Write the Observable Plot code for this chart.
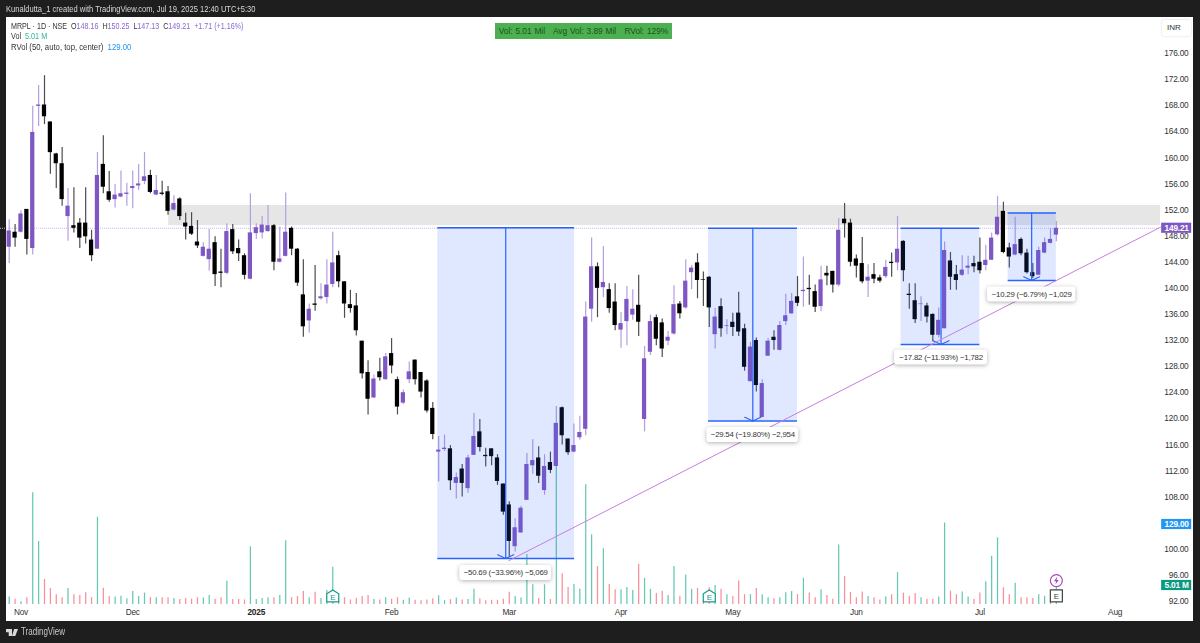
<!DOCTYPE html>
<html>
<head>
<meta charset="utf-8">
<script src="https://cdn.jsdelivr.net/npm/d3@7"></script>
<script src="https://cdn.jsdelivr.net/npm/@observablehq/plot@0.6"></script>
<style>
html,body{margin:0;padding:0;background:#1e1e1e;width:1200px;height:643px;overflow:hidden;font-family:"Liberation Sans",sans-serif}
#panel{position:absolute;left:6px;top:17px;width:1187px;height:604px;background:#fff}
#chart{position:absolute;left:0;top:0;z-index:1}
#chart svg text{letter-spacing:-.2px}
.t{position:absolute;z-index:2;white-space:nowrap}
#hdr{left:6px;top:3px;color:#d8d8d8;font-size:8.7px;line-height:12px;transform:scaleX(.868);transform-origin:left}
.leg{left:11px;font-size:8.5px;line-height:11px;color:#333;transform-origin:left}
.leg .p{color:#8a68cf}.leg .g{color:#2bb59a}.leg .b{color:#2196f3}
#rv{left:495px;top:23px;width:177px;height:16px;background:#4caf50;color:#17541c;font-size:8.3px;line-height:16px;text-align:center;word-spacing:.5px}
#inr{left:1162px;top:20px;width:29px;height:16px;line-height:16px;text-align:center;text-indent:-5px;color:#333;font-size:8px;background:#fff;box-shadow:0 0 2px rgba(0,0,0,.2);border-radius:2px}
#brand{left:21px;top:626px;color:#c8c8c8;font-size:10px;line-height:12px;transform:scaleX(.8);transform-origin:left}
#cut{position:absolute;z-index:2;left:1160px;top:604px;width:33px;height:4px;background:#fff}
.logo{position:absolute;z-index:2;background:#d8d8d8}
</style>
</head>
<body>
<div id="panel"></div>
<div id="chart"></div>
<div id="cut"></div>
<div class="t" id="hdr">Kunaldutta_1 created with TradingView.com, Jul 19, 2025 12:40 UTC+5:30</div>
<div class="t leg" style="top:21px;transform:scaleX(.84)">MRPL · 1D · NSE &nbsp;O<span class="p">148.16</span> &nbsp;H<span class="p">150.25</span> &nbsp;L<span class="p">147.13</span> &nbsp;C<span class="p">149.21</span> &nbsp;<span class="p">+1.71 (+1.16%)</span></div>
<div class="t leg" style="top:31px;transform:scaleX(.85)">Vol &nbsp;<span class="g">5.01 M</span></div>
<div class="t leg" style="top:42px;transform:scaleX(.91)">RVol (50, auto, top, center) &nbsp;<span class="b">129.00</span></div>
<div class="t" id="rv">Vol: 5.01 Mil &nbsp; Avg Vol: 3.89 Mil &nbsp; RVol: 129%</div>
<div class="t" id="inr">INR</div>
<div class="logo" style="left:6px;top:629px;width:6px;height:7px;clip-path:polygon(0 0,100% 0,100% 100%,45% 100%,45% 45%,0 45%)"></div>
<div class="logo" style="left:12px;top:629px;width:6px;height:7px;clip-path:polygon(35% 0,100% 0,55% 100%,0 100%)"></div>
<div class="t" id="brand">TradingView</div>
<script>
// ---- candle values, one per trading day, Nov 2024 – Jul 2025 ----
const opens = [
146.3,148.6,148.6,152.1,146.1,167.9,168.1,165.5,160.6,159.1,
151.0,149.6,150.0,150.0,147.4,146.0,159.0,154.8,153.6,154.0,
154.4,155.3,155.7,156.4,157.3,154.3,154.6,154.8,152.0,153.7,
150.0,149.5,147.1,144.9,144.4,147.0,142.5,142.3,149.0,146.1,
145.0,141.4,148.4,148.5,148.7,149.6,144.0,144.9,149.2,146.0,
139.0,135.0,137.6,138.4,138.6,140.6,145.0,141.0,137.5,137.3,
131.9,127.1,123.2,127.2,126.0,130.0,126.0,122.4,126.0,129.0,
127.1,125.8,121.6,114.9,115.3,115.4,110.1,112.3,109.3,114.4,
118.0,114.4,115.4,114.0,110.0,106.8,100.4,102.5,107.5,112.8,
114.0,109.0,113.3,112.7,121.7,116.9,114.9,117.1,118.4,136.8,
143.3,140.1,139.8,137.9,133.6,134.9,135.9,137.4,119.9,130.2,
135.5,134.7,131.9,133.0,137.6,137.0,142.4,143.9,141.3,141.7,
132.9,137.2,134.2,134.8,136.2,133.8,125.7,132.0,120.2,129.6,
132.5,130.5,134.9,136.1,138.7,139.5,140.0,139.5,137.2,142.3,
142.6,140.5,150.6,150.0,144.5,143.8,141.1,142.1,141.6,141.8,
144.0,143.9,147.2,139.1,138.1,137.5,137.3,136.0,132.8,133.8,
144.2,142.1,142.0,143.1,143.8,144.0,143.5,144.3,148.2,151.8,
146.2,145.1,147.5,145.4,142.4,142.0,145.4,146.9,148.16];
const closes = [
148.8,147.7,151.4,147.5,163.9,168.1,166.3,160.8,159.1,153.6,
152.6,149.2,147.7,147.9,145.0,157.3,155.5,153.5,154.3,154.5,
154.6,155.6,156.0,157.1,154.7,155.0,154.4,151.8,153.0,151.0,
149.4,148.3,146.5,146.3,146.0,142.1,142.3,148.7,145.6,145.3,
142.0,148.5,149.3,149.7,149.6,144.0,144.5,148.6,146.0,140.8,
134.1,136.8,137.4,138.7,140.5,143.9,141.0,137.6,136.9,133.5,
126.9,123.0,126.1,126.3,129.5,128.1,121.8,124.0,127.2,126.0,
124.1,121.2,117.6,115.2,115.5,110.5,111.0,110.1,114.0,117.3,
115.6,114.2,114.2,110.4,105.7,101.2,103.3,106.3,113.0,113.6,
111.2,112.7,112.1,119.3,117.4,114.8,115.9,117.9,135.6,143.3,
140.0,140.9,136.9,134.3,134.6,138.3,136.8,134.8,129.2,134.9,
132.2,130.7,132.5,137.5,136.1,141.1,143.1,141.2,141.2,137.0,
135.6,133.8,134.3,134.0,133.3,127.9,131.0,125.1,125.4,131.9,
132.0,134.3,135.8,138.0,137.7,139.7,139.8,137.1,141.3,141.9,
140.5,148.9,149.9,144.0,143.4,141.0,141.7,141.4,141.1,143.2,
143.8,146.0,142.7,138.9,135.2,137.6,135.6,132.8,135.1,145.8,
141.7,141.2,142.8,143.4,143.3,142.7,144.3,147.7,150.9,145.5,
144.8,146.7,145.3,142.4,141.8,145.8,147.0,147.5,149.21];
const highs = [
150.5,149.8,151.9,152.1,167.9,171.1,172.6,165.5,160.7,161.6,
155.3,155.4,150.7,155.4,148.9,160.8,163.4,157.9,155.9,158.0,
156.1,158.0,159.0,160.8,158.1,157.3,156.4,155.6,154.2,153.9,
151.5,151.6,150.4,147.0,149.0,147.9,146.0,149.9,149.8,147.4,
145.3,154.5,149.9,151.0,152.7,149.8,149.4,154.6,149.4,146.1,
144.4,137.6,143.5,140.7,144.4,148.6,145.7,141.0,139.7,139.2,
131.9,128.9,126.7,129.3,130.0,132.3,126.4,124.4,128.7,129.0,
127.1,126.0,122.5,117.3,117.5,115.9,111.7,113.0,114.4,120.8,
119.9,115.5,115.4,114.5,110.0,107.3,104.7,106.6,114.7,116.8,
115.7,114.5,114.9,121.9,121.8,116.9,119.2,120.4,137.9,147.7,
143.9,146.4,140.7,140.7,136.3,140.3,139.8,142.0,131.1,135.9,
135.9,135.3,133.4,140.4,138.0,144.4,143.5,145.3,142.5,141.8,
136.9,138.4,135.2,136.2,139.4,134.5,131.7,132.4,126.0,132.3,
133.5,134.9,139.1,139.2,141.8,144.8,142.0,140.5,143.4,143.4,
142.6,150.7,153.0,150.6,145.1,147.8,143.6,143.8,142.0,144.3,
145.4,151.0,147.3,140.7,140.7,138.7,137.7,136.1,137.0,147.1,
145.5,143.5,145.0,144.9,144.9,147.7,146.6,148.5,154.1,153.2,
146.9,150.9,147.7,146.0,143.8,146.3,147.7,149.1,150.25];
const lows = [
143.8,146.3,148.5,145.1,145.1,164.8,165.1,157.5,155.3,152.6,
147.2,148.5,146.1,146.8,144.1,146.0,154.5,153.2,152.3,153.9,
152.6,152.2,155.0,155.9,154.5,154.2,154.2,151.2,151.8,150.4,
147.4,148.1,146.1,144.8,142.6,140.3,140.1,142.1,145.2,144.1,
141.3,141.3,147.5,147.6,148.6,142.7,143.9,144.8,145.0,140.3,
132.5,133.1,136.5,138.2,137.6,140.1,140.1,135.4,136.2,132.7,
126.1,120.6,123.1,125.8,125.9,126.9,120.6,122.2,125.4,125.2,
123.2,120.9,116.8,110.3,115.0,109.0,107.7,108.0,108.6,114.4,
114.9,112.6,112.8,109.8,105.2,98.8,99.6,102.5,107.5,111.5,
110.1,108.3,111.6,112.6,116.0,114.4,114.8,116.7,117.4,134.8,
135.5,138.6,136.2,133.5,130.8,131.2,135.1,132.6,118.0,129.7,
131.2,129.4,131.2,132.8,135.3,136.8,139.8,138.4,137.2,134.0,
130.7,132.5,132.9,132.6,132.6,127.3,125.6,124.1,120.2,129.6,
130.5,130.4,134.3,136.0,137.2,137.1,137.4,136.3,136.4,140.4,
139.3,140.2,147.7,143.3,141.6,140.7,138.6,140.7,140.8,141.5,
141.7,142.7,141.0,136.8,134.6,134.9,134.7,131.8,132.4,133.8,
139.7,139.7,141.8,142.1,142.4,142.2,142.7,144.3,148.0,145.3,
143.1,145.0,145.0,142.2,141.5,142.0,145.3,146.8,147.13];
// volume in millions of shares
const volumes = [
2.0,1.4,0.7,1.8,29.5,16.6,6.6,4.2,2.6,1.8,
4.2,2.6,2.4,3.1,1.8,23.0,4.3,2.1,2.0,2.2,
1.5,3.4,2.1,3.0,1.8,1.8,1.8,1.8,1.6,1.3,
1.6,1.4,1.8,1.7,2.4,1.4,1.8,6.1,1.3,1.3,
1.2,15.2,1.3,1.6,1.8,1.8,2.4,16.8,1.8,2.1,
3.4,1.8,3.2,1.6,3.7,9.8,0.9,1.8,1.2,1.6,
2.1,2.4,1.3,1.2,1.8,1.4,1.8,1.1,1.7,1.1,
1.0,1.2,1.5,2.3,1.0,1.3,1.7,1.2,1.3,4.0,
1.5,1.0,1.1,1.1,1.4,3.2,2.1,1.7,13.2,5.2,
1.6,5.2,1.3,36.7,8.1,4.5,5.3,4.1,31.6,18.4,
10.0,14.7,5.3,3.9,3.9,4.5,3.7,10.6,6.9,4.0,
2.9,3.5,2.4,10.0,2.2,7.8,4.0,4.2,1.1,4.4,
5.0,4.0,2.6,2.1,6.2,2.6,2.6,4.2,2.6,1.8,
1.5,1.8,3.1,3.4,2.6,6.9,3.0,1.8,3.9,2.4,
1.4,15.7,7.4,3.2,1.8,3.3,2.1,1.8,1.2,2.0,
2.6,8.4,3.0,2.2,2.9,1.8,1.3,1.3,2.0,21.5,
3.5,2.6,3.3,2.0,1.3,3.0,6.0,12.7,17.6,4.4,
2.6,5.6,1.8,1.8,1.6,2.6,2.2,1.1,5.01];

const priceTicks = [92,96,100,104,108,112,116,120,124,128,132,136,140,144,148,152,156,160,164,168,172,176];
const monthBars = [2,21,65,85,104,123,144,165,188];
const monthNames = ["Nov","Dec","Feb","Mar","Apr","May","Jun","Jul","Aug"];
const yearBars = [42];
const yearNames = ["2025"];

// resistance band, last price, trend line
const zoneLow = 149.6, zoneHigh = 152.7, zoneStart = 27.1, paneEnd = 195.7;
const lastClose = 149.21;
const trendBars = [84.9, 195.7];
const trendPrices = [98.24, 149.37];

// measuring boxes
const boxStart = [72.85, 118.87, 151.6, 169.8];
const boxEnd   = [96.1, 134, 165, 178];
const boxMid   = [84.4, 126.4, 158.4, 173.8];
const boxTop   = [149.29, 149.2, 149.22, 151.55];
const boxBot   = [98.6, 119.66, 131.4, 141.2];
const boxLabels = ["−50.69 (−33.96%) −5,069","−29.54 (−19.80%) −2,954","−17.82 (−11.93%) −1,782","−10.29 (−6.79%) −1,029"];
const labelY = [96.37, 117.52, 129.4, 139.06];
const labelHalfW = [7.8, 7.8, 7.9, 7.5];
const labelHalfH = 1.15;

// events
const earningsBars = [55, 119];
const reportBar = 178;
const markerLevel = 92.85, boltLevel = 95.2;

// volume pane sits at the foot of the price pane
const volBase = 91.54, volUnit = 0.581;

// right-hand value tags
const tagText = ["149.21","129.00","5.01 M"];
const tagLevel = [149.21, 103.8, 94.45];
const tagFill = ["#7e57c2","#2196f3","#089981"];
const tagMid = 198.45, tagHalfW = 2.55, tagHalfH = 0.78;

const bars = opens.map((o,i)=>({i,o,c:closes[i],h:highs[i],l:lows[i],v:volumes[i],up:closes[i]>=o}));
const boxes = boxStart.map((s,k)=>({s,e:boxEnd[k],m:boxMid[k],t:boxTop[k],b:boxBot[k],label:boxLabels[k],ly:labelY[k],hw:labelHalfW[k]}));
const tags = tagText.map((t,k)=>({t,y:tagLevel[k],f:tagFill[k]}));
const trend = trendBars.map((x,k)=>({x,y:trendPrices[k]}));
const house = {draw(ctx,size){const s=Math.sqrt(size/Math.PI);ctx.moveTo(-s,s);ctx.lineTo(s,s);ctx.lineTo(s,-s*.35);ctx.lineTo(0,-s);ctx.lineTo(-s,-s*.35);ctx.closePath();}};
const rbox = {draw(ctx,size){const s=Math.sqrt(size/Math.PI);ctx.rect(-s,-s,2*s,2*s);}};
const bolt = {draw(ctx,size){const s=Math.sqrt(size/Math.PI);ctx.moveTo(.25*s,-s);ctx.lineTo(-.6*s,.15*s);ctx.lineTo(-.05*s,.15*s);ctx.lineTo(-.25*s,s);ctx.lineTo(.6*s,-.15*s);ctx.lineTo(.05*s,-.15*s);ctx.closePath();}};
const up = bars.filter(d=>d.up), dn = bars.filter(d=>!d.up);
const font = "Liberation Sans";

const chart = Plot.plot({
  width:1200, height:643, margin:0,
  style:{background:"transparent",fontFamily:font,fontSize:"8px"},
  x:{domain:[-1.479,202.5],axis:null},
  y:{domain:[85.56,184.12],axis:null},
  marks:[
    Plot.rect([0],{x1:()=>zoneStart,x2:()=>paneEnd,y1:()=>zoneLow,y2:()=>zoneHigh,fill:"#e6e6e6"}),
    Plot.ruleY([lastClose],{x1:-1.479,x2:()=>paneEnd,stroke:"#c9b8ee",strokeWidth:1,strokeDasharray:"1,1"}),
    Plot.ruleX(up,{x:"i",y1:()=>volBase,y2:d=>volBase+d.v*volUnit,stroke:"#66c8b3",strokeWidth:1.25}),
    Plot.ruleX(dn,{x:"i",y1:()=>volBase,y2:d=>volBase+d.v*volUnit,stroke:"#f98f99",strokeWidth:1.25}),
    Plot.ruleX(up,{x:"i",y1:"l",y2:"h",stroke:"#b49ee2",strokeWidth:1.2}),
    Plot.ruleX(dn,{x:"i",y1:"l",y2:"h",stroke:"#4d4d4d",strokeWidth:1.2}),
    Plot.rect(up,{x1:d=>d.i-0.36,x2:d=>d.i+0.36,y1:"o",y2:"c",fill:"#7e57c2"}),
    Plot.rect(dn,{x1:d=>d.i-0.36,x2:d=>d.i+0.36,y1:"o",y2:"c",fill:"#000"}),
    Plot.rect(boxes,{x1:"s",x2:"e",y1:"b",y2:"t",fill:"#2962ff",fillOpacity:0.15}),
    Plot.ruleY(boxes,{y:"t",x1:"s",x2:"e",stroke:"#2962ff",strokeWidth:1.4}),
    Plot.ruleY(boxes,{y:"b",x1:"s",x2:"e",stroke:"#2962ff",strokeWidth:1.4}),
    Plot.arrow(boxes,{x:"m",y1:"t",y2:"b",stroke:"#2962ff",strokeWidth:1.2,headAngle:130,headLength:11,insetEnd:0,insetStart:0}),
    Plot.line(trend,{x:"x",y:"y",stroke:"#c57fdc",strokeWidth:1}),
    Plot.rect(boxes,{x1:d=>d.m-d.hw,x2:d=>d.m+d.hw,y1:d=>d.ly-labelHalfH,y2:d=>d.ly+labelHalfH,fill:"#fff",rx:3,imageFilter:"drop-shadow(0 1px 2px rgba(0,0,0,.3))"}),
    Plot.text(boxes,{x:"m",y:"ly",text:"label",fill:"#333",fontSize:7.8}),
    Plot.axisY(priceTicks,{anchor:"right",tickSize:0,tickPadding:-12,textAnchor:"end",label:null,tickFormat:d=>d.toFixed(2),fontSize:8.3,fill:"#333"}),
    Plot.axisX(monthBars,{anchor:"bottom",tickSize:0,tickPadding:-31,lineAnchor:"middle",label:null,tickFormat:i=>monthNames[monthBars.indexOf(i)],fontSize:8.3,fill:"#333"}),
    Plot.axisX(yearBars,{anchor:"bottom",tickSize:0,tickPadding:-31,lineAnchor:"middle",label:null,tickFormat:i=>yearNames[yearBars.indexOf(i)],fontSize:8.3,fontWeight:"bold",fill:"#222"}),
    Plot.rect(tags,{x1:()=>tagMid-tagHalfW,x2:()=>tagMid+tagHalfW,y1:d=>d.y-tagHalfH,y2:d=>d.y+tagHalfH,fill:"f"}),
    Plot.text(tags,{x:()=>tagMid,y:"y",text:"t",fill:"#fff",fontWeight:"bold",fontSize:8.3}),
    Plot.dot(earningsBars,{x:d=>d,y:()=>markerLevel,r:6,symbol:house,fill:"#fff",stroke:"#159b88",strokeWidth:1.2}),
    Plot.text(earningsBars,{x:d=>d,y:()=>markerLevel,text:()=>"E",fill:"#159b88",fontSize:8,dy:1}),
    Plot.dot([reportBar],{x:d=>d,y:()=>markerLevel,r:6,symbol:rbox,fill:"#fff",stroke:"#444",strokeWidth:1.2}),
    Plot.text([reportBar],{x:d=>d,y:()=>markerLevel,text:()=>"E",fill:"#444",fontSize:8}),
    Plot.dot([reportBar],{x:d=>d,y:()=>boltLevel,r:6,fill:"#fff",stroke:"#ab47bc",strokeWidth:1.2}),
    Plot.dot([reportBar],{x:d=>d,y:()=>boltLevel,r:4,symbol:bolt,fill:"#ab47bc",stroke:"none"})
  ]
});
document.getElementById("chart").appendChild(chart);
</script>
</body>
</html>
